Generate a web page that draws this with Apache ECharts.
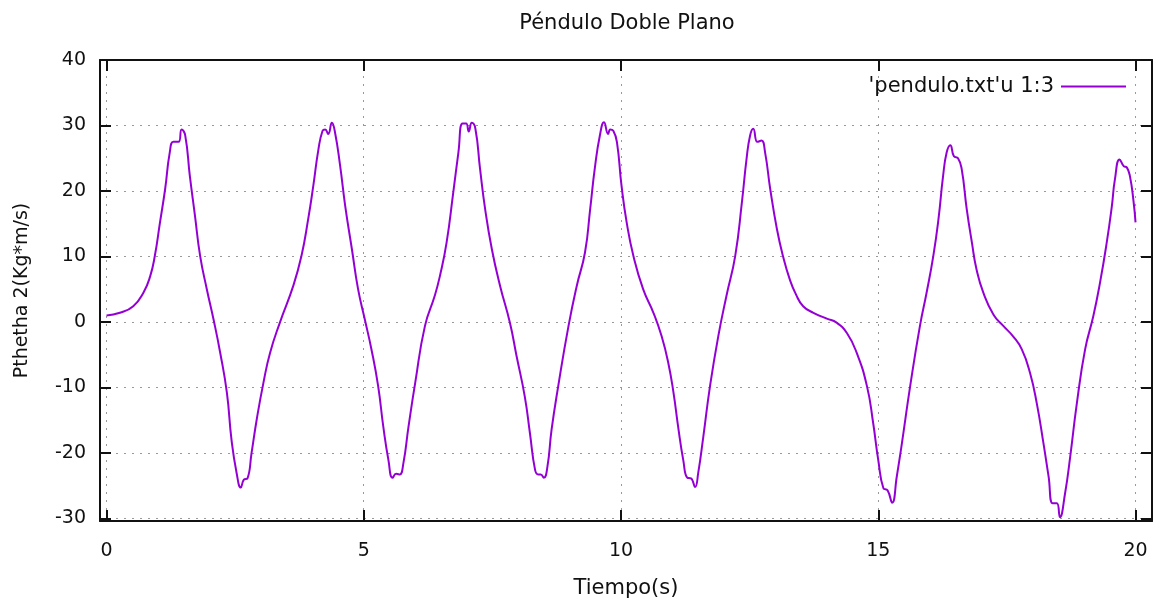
<!DOCTYPE html>
<html><head><meta charset="utf-8">
<script src="https://cdn.jsdelivr.net/npm/echarts@6/dist/echarts.min.js"></script>
<style>html,body{margin:0;padding:0;background:#fff}#c{width:1164px;height:598px}</style>
</head><body><div id="c"></div>
<script>
const titleText = 'Péndulo Doble Plano';
const xName = 'Tiempo(s)';
const yName = 'Pthetha 2(Kg*m/s)';
const seriesName = "'pendulo.txt'u 1:3";
const xTicks = [0, 5, 10, 15, 20];
const yTicks = [-30, -20, -10, 0, 10, 20, 30, 40];

const times = [
  0, 0.26, 0.52, 0.72, 0.85, 0.94, 1.04, 1.14, 1.23, 1.30, 1.40, 1.46, 1.53, 1.62, 1.72, 1.82, 1.95, 2.08,
  2.21, 2.34, 2.43, 2.53, 2.61, 2.67, 2.74, 2.82, 2.92, 3.05, 3.18, 3.37, 3.63, 3.79, 3.92, 4.02, 4.12,
  4.20, 4.25, 4.31, 4.38, 4.44, 4.54, 4.64, 4.77, 4.89, 5.02, 5.15, 5.28, 5.38, 5.48, 5.56, 5.63, 5.70,
  5.77, 5.87, 6.00, 6.19, 6.38, 6.48, 6.61, 6.74, 6.84, 6.92, 6.99, 7.04, 7.10, 7.17, 7.26, 7.36, 7.49,
  7.65, 7.84, 7.97, 8.13, 8.23, 8.33, 8.39, 8.44, 8.50, 8.57, 8.65, 8.78, 8.98, 9.14, 9.30, 9.40, 9.49,
  9.59, 9.67, 9.75, 9.79, 9.85, 9.92, 10.01, 10.11, 10.24, 10.43, 10.63, 10.79, 10.92, 11.02, 11.11,
  11.21, 11.29, 11.36, 11.44, 11.50, 11.60, 11.73, 11.89, 12.05, 12.22, 12.35, 12.44, 12.51, 12.57,
  12.65, 12.73, 12.80, 12.90, 13.03, 13.15, 13.28, 13.40, 13.54, 13.74, 14.00, 14.19, 14.39, 14.58,
  14.78, 14.90, 15.00, 15.10, 15.18, 15.27, 15.36, 15.46, 15.62, 15.81, 15.94, 16.07, 16.17, 16.26,
  16.33, 16.40, 16.47, 16.55, 16.62, 16.72, 16.82, 16.91, 17.04, 17.24, 17.43, 17.62, 17.79, 17.95,
  18.08, 18.21, 18.31, 18.39, 18.47, 18.53, 18.63, 18.73, 18.86, 19.02, 19.18, 19.31, 19.44, 19.54,
  19.60, 19.69, 19.77, 19.83, 19.89, 19.96, 20.00
];
const values = [
  1.0, 1.4, 2.4, 4.5, 7.0, 10.1, 15.2, 20.3, 25.9, 27.5, 27.5, 29.4, 28.5, 22.3, 16.2, 10.1, 5.0, 0.4,
  -4.7, -10.8, -18.0, -23.1, -25.3, -24.1, -23.9, -20.0, -14.9, -9.3, -4.7, -0.1, 5.5, 10.1, 15.7, 20.8, 26.4,
  29.2, 29.4, 28.7, 30.4, 29.0, 23.9, 17.7, 11.1, 5.0, 0.4, -4.2, -9.8, -16.0, -21.1, -23.8, -23.2, -23.3,
  -21.6, -16.0, -9.3, -0.6, 4.0, 7.0, 12.1, 19.8, 25.9, 30.3, 30.3, 29.1, 30.4, 29.5, 23.4, 17.2, 11.1,
  5.5, -0.1, -5.2, -11.4, -17.0, -22.6, -23.3, -23.3, -23.8, -22.1, -16.5, -9.8, -0.6, 5.5, 10.6, 17.2, 23.4,
  28.5, 30.5, 28.7, 29.4, 29.2, 27.5, 20.8, 15.2, 10.1, 5.0, 1.4, -2.2, -6.3, -10.8, -16.0,
  -21.1, -23.8, -23.9, -25.2, -23.1, -17.5, -9.8, -2.2, 4.0, 10.1, 18.3, 24.9, 28.5, 29.5,
  27.5, 27.7, 25.9, 20.3, 14.2, 10.0, 6.5, 4.2, 2.4, 1.4, 0.5, -0.1, -1.7, -4.7,
  -9.8, -15.4, -21.1, -25.4, -25.7, -27.6, -23.6, -18.5, -9.8, -0.6, 4.5, 10.1, 15.7, 22.3,
  25.9, 27.0, 25.3, 25.0, 23.4, 17.2, 12.1, 8.0, 4.5, 1.1, -0.6, -2.2, -4.2, -7.8,
  -12.4, -18.5, -23.6, -27.7, -27.7, -29.8, -26.2, -20.6, -12.4, -4.2, 0.9, 6.0, 12.1, 17.7,
  21.8, 24.8, 23.8, 23.6, 22.3, 18.5, 15.2
];

const FONT = 'DejaVu Sans';
const data = times.map((t, i) => [t, values[i]]);
const frame = { show: true, onZero: false, lineStyle: { color: '#111', width: 2 } };
const grid = { show: true, lineStyle: { color: '#999', width: 1, type: [2, 6] } };
const tick = (vals) => ({ show: true, inside: true, length: 11, customValues: vals, lineStyle: { color: '#111', width: 2 } });

const chart = echarts.init(document.getElementById('c'), null, { renderer: 'canvas' });
chart.setOption({
  animation: false,
  backgroundColor: '#fff',
  title: {
    text: titleText, left: 622, top: 8, textAlign: 'center',
    textStyle: { fontFamily: FONT, fontSize: 21, fontWeight: 'normal', color: '#111' }
  },
  legend: {
    data: [{ name: seriesName, icon: 'rect' }], right: 33, top: 71, align: 'right',
    itemWidth: 65, itemHeight: 2,
    textStyle: { fontFamily: FONT, fontSize: 21, color: '#111', padding: [0, 2, 0, 0] }
  },
  grid: { left: 100, right: 12, top: 60, bottom: 77, containLabel: false, outerBoundsMode: 'none' },
  xAxis: [{
    type: 'value', position: 'bottom', min: -0.126, max: 20.32,
    name: xName, nameLocation: 'middle', nameGap: 57,
    nameTextStyle: { fontFamily: FONT, fontSize: 21, color: '#111' },
    axisLine: frame, axisTick: tick(xTicks),
    axisLabel: { customValues: xTicks, margin: 21, fontFamily: FONT, fontSize: 19, color: '#111' },
    splitLine: grid
  }, {
    type: 'value', position: 'top', min: -0.126, max: 20.32,
    axisLine: frame, axisTick: tick(xTicks),
    axisLabel: { show: false }, splitLine: { show: false }
  }],
  yAxis: [{
    type: 'value', position: 'left', min: -30.4, max: 40,
    name: yName, nameLocation: 'middle', nameGap: 68, nameRotate: 90,
    nameTextStyle: { fontFamily: FONT, fontSize: 19, color: '#111' },
    axisLine: frame, axisTick: tick(yTicks),
    axisLabel: { customValues: yTicks, margin: 14, fontFamily: FONT, fontSize: 19, color: '#111' },
    splitLine: grid
  }, {
    type: 'value', position: 'right', min: -30.4, max: 40,
    axisLine: frame, axisTick: tick(yTicks),
    axisLabel: { show: false }, splitLine: { show: false }
  }],
  series: [{
    name: seriesName, type: 'line', data: data,
    xAxisIndex: 0, yAxisIndex: 0,
    symbol: 'none', smooth: 0.5,
    lineStyle: { color: '#9400d3', width: 2 },
    itemStyle: { color: '#9400d3' }
  }]
});
</script></body></html>
